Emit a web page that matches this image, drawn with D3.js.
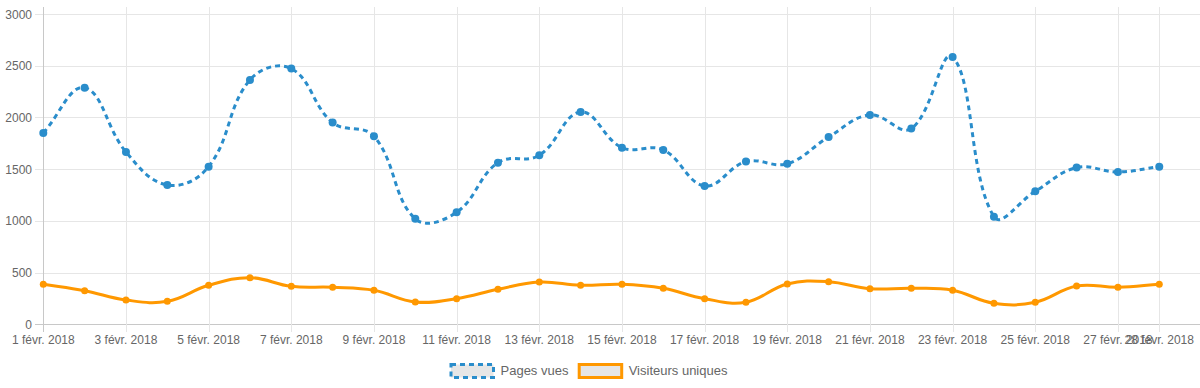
<!DOCTYPE html>
<html>
<head>
<meta charset="utf-8">
<script src="https://cdn.jsdelivr.net/npm/d3@7"></script>
<style>
  body { margin: 0; background: #fff; }
  svg { display: block; font-family: "Liberation Sans", Arial, sans-serif; }
</style>
</head>
<body>
<div id="chart"></div>
<script>
// days of February 2018
var days = d3.range(1, 29);
var pagesVues = [1850, 2288, 1666, 1347, 1524, 2363, 2472, 1950, 1818, 1020,
                 1083, 1563, 1634, 2053, 1708, 1686, 1338, 1573, 1553, 1811,
                 2024, 1892, 2585, 1041, 1286, 1515, 1473, 1524];
var visiteurs = [387, 325, 235, 222, 377, 451, 367, 358, 329, 216,
                 248, 338, 409, 377, 387, 348, 248, 213, 390, 412,
                 344, 348, 329, 203, 213, 370, 358, 387];
var yTicks = [0, 500, 1000, 1500, 2000, 2500, 3000];
var tickDays = [1, 3, 5, 7, 9, 11, 13, 15, 17, 19, 21, 23, 25, 27, 28];
var seriesNames = ["Pages vues", "Visiteurs uniques"];

var width = 1200, height = 388;
var margin = {top: 7, left: 43.3, right: 0, bottom: 64};

var svg = d3.select("#chart").append("svg")
    .attr("width", width)
    .attr("height", height);

var x = d3.scaleLinear()
    .domain([1, 29])
    .range([margin.left, 1200.6]);

var y = d3.scaleLinear()
    .domain([0, 3000])
    .range([324.3, 14]);

var fmt = function(d) { return d + " févr. 2018"; };

// horizontal grid
var g = svg.append("g");
g.selectAll(".hgrid").data(yTicks).enter().append("line")
    .attr("x1", 35).attr("x2", width)
    .attr("y1", function(d) { return Math.round(y(d)) + 0.5; })
    .attr("y2", function(d) { return Math.round(y(d)) + 0.5; })
    .attr("stroke", function(d) { return d === 0 ? "#c8c8c8" : "#e6e6e6"; })
    .attr("stroke-width", 1);

// vertical grid
g.selectAll(".vgrid").data(tickDays).enter().append("line")
    .attr("x1", function(d) { return Math.round(x(d)) + 0.5; })
    .attr("x2", function(d) { return Math.round(x(d)) + 0.5; })
    .attr("y1", margin.top).attr("y2", 332)
    .attr("stroke", function(d) { return d === 1 ? "#c8c8c8" : "#e6e6e6"; })
    .attr("stroke-width", 1);

// y labels
g.selectAll(".ylab").data(yTicks).enter().append("text")
    .attr("x", 32)
    .attr("y", function(d) { return y(d) + 4.5; })
    .attr("text-anchor", "end")
    .attr("font-size", 12)
    .attr("fill", "#666")
    .text(function(d) { return d; });

// x labels
g.selectAll(".xlab").data(tickDays).enter().append("text")
    .attr("x", function(d) { return x(d); })
    .attr("y", 344)
    .attr("text-anchor", "middle")
    .attr("font-size", 12)
    .attr("fill", "#666")
    .text(fmt);

// Chart.js style spline (tension 0.4)
function splinePath(pts) {
    var t = 0.4, cps = [];
    pts.forEach(function(p, i) {
        var prev = pts[Math.max(i - 1, 0)], next = pts[Math.min(i + 1, pts.length - 1)];
        var d01 = Math.hypot(p[0] - prev[0], p[1] - prev[1]);
        var d12 = Math.hypot(next[0] - p[0], next[1] - p[1]);
        var s01 = d01 / (d01 + d12) || 0, s12 = d12 / (d01 + d12) || 0;
        var fa = t * s01, fb = t * s12;
        cps.push({
            prev: [p[0] - fa * (next[0] - prev[0]), p[1] - fa * (next[1] - prev[1])],
            next: [p[0] + fb * (next[0] - prev[0]), p[1] + fb * (next[1] - prev[1])]
        });
    });
    var path = d3.path();
    path.moveTo(pts[0][0], pts[0][1]);
    for (var i = 1; i < pts.length; i++) {
        path.bezierCurveTo(cps[i - 1].next[0], cps[i - 1].next[1],
                           cps[i].prev[0], cps[i].prev[1], pts[i][0], pts[i][1]);
    }
    return path.toString();
}

var series = [
    {values: pagesVues, color: "#2a8dcb", dash: "5,4", r: 4},
    {values: visiteurs, color: "#ff9800", dash: null, r: 3.5}
];

series.forEach(function(s) {
    var pts = days.map(function(d, i) { return [x(d), y(s.values[i])]; });
    svg.append("path")
        .attr("d", splinePath(pts))
        .attr("fill", "none")
        .attr("stroke", s.color)
        .attr("stroke-width", 3)
        .attr("stroke-dasharray", s.dash);
    svg.append("g").selectAll("circle").data(pts).enter().append("circle")
        .attr("cx", function(p) { return p[0]; })
        .attr("cy", function(p) { return p[1]; })
        .attr("r", s.r)
        .attr("fill", s.color);
});

// legend
var legend = svg.append("g");
var legendX = [451, 579.2];
seriesNames.forEach(function(name, i) {
    var s = series[i];
    legend.append("rect")
        .attr("x", legendX[i]).attr("y", 364.5)
        .attr("width", 42.5).attr("height", 13)
        .attr("fill", "#e6e6e6")
        .attr("stroke", s.color)
        .attr("stroke-width", 3)
        .attr("stroke-dasharray", s.dash);
    legend.append("text")
        .attr("x", legendX[i] + 49.5)
        .attr("y", 375)
        .attr("font-size", 13)
        .attr("fill", "#666")
        .text(name);
});
</script>
</body>
</html>
